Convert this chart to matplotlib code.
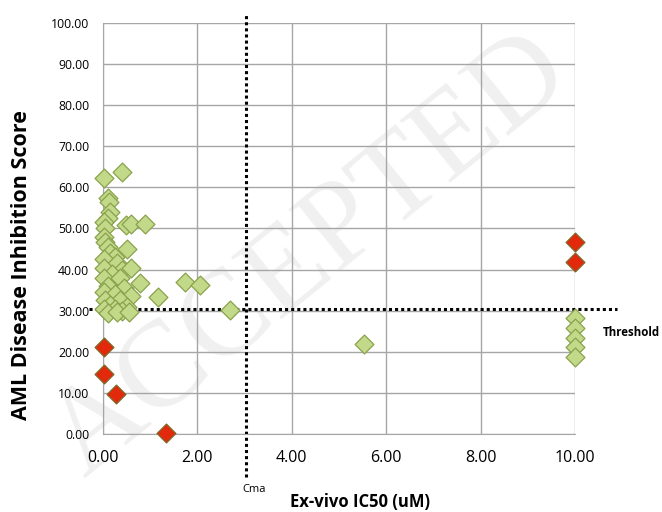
import matplotlib
matplotlib.use("Agg")
import matplotlib.pyplot as plt
from matplotlib.ticker import FormatStrFormatter

plt.rcParams['font.family'] = ['Open Sans', 'DejaVu Sans']

# compounds above / near threshold (green) and below (red)
green_x = [0.02, 0.40, 0.10, 0.13, 0.15, 0.10, 0.02, 0.05, 0.49, 0.60, 0.88,
           0.02, 0.05, 0.10, 0.50, 0.15, 0.25, 0.02, 0.30, 0.02, 0.40, 0.60,
           0.20, 0.02, 0.35, 0.78, 0.10, 0.45, 0.02, 0.25, 0.60, 1.16, 0.05,
           0.35, 0.15, 0.50, 0.02, 0.25, 0.40, 0.10, 0.30, 0.55, 1.73, 2.05,
           2.68, 5.54, 10.0, 10.0, 10.0, 10.0, 10.0]
green_y = [62.2, 63.8, 57.3, 56.5, 54.0, 52.5, 51.6, 50.0, 50.8, 51.0, 51.0,
           48.0, 46.7, 45.5, 45.0, 44.0, 43.0, 42.5, 41.5, 40.3, 40.0, 40.5,
           39.0, 38.0, 38.0, 36.7, 36.0, 35.5, 34.5, 34.0, 33.5, 33.3, 32.5,
           32.5, 31.5, 31.0, 30.5, 30.5, 30.0, 29.5, 29.8, 29.8, 37.0, 36.2,
           30.2, 21.9, 28.2, 25.8, 23.5, 21.3, 18.8]
red_x = [0.03, 0.03, 0.27, 1.34, 10.0, 10.0]
red_y = [21.1, 14.6, 9.8, 0.2, 46.7, 41.9]

threshold = 30.5
cmax = 3.03

x_ticks = [0, 2, 4, 6, 8, 10]
y_ticks = [0, 10, 20, 30, 40, 50, 60, 70, 80, 90, 100]

fig = plt.figure(figsize=(6.62, 5.12), dpi=100)

# faint watermark behind the chart
fig.text(0.47, 0.5, 'ACCEPTED', family='Liberation Serif', fontsize=88,
         color='#f0f0f0', rotation=39, ha='center', va='center', zorder=-1)

ax = fig.add_axes([0.1556, 0.1518, 0.713, 0.8042])
ax.patch.set_alpha(0)

ax.set_xlim(0, 10)
ax.set_ylim(0, 100)
ax.set_xticks(x_ticks)
ax.set_yticks(y_ticks)
ax.xaxis.set_major_formatter(FormatStrFormatter('%.2f'))
ax.yaxis.set_major_formatter(FormatStrFormatter('%.2f'))
ax.grid(True, color='#a6a6a6', linewidth=1.0)
ax.set_axisbelow(True)
for side in ['top', 'right']:
    ax.spines[side].set_visible(False)
for side in ['left', 'bottom']:
    ax.spines[side].set_color('#a6a6a6')
ax.tick_params(axis='both', length=0)
ax.tick_params(axis='y', labelsize=8.8, pad=10)
ax.tick_params(axis='x', labelsize=11.5, pad=11)

# threshold and Cmax lines go past the plot area
ax.plot([-0.3, 10.9], [threshold, threshold], color='black', linestyle=(0, (1, 1)),
        linewidth=2.2, clip_on=False, zorder=2)
ax.plot([cmax, cmax], [-10.4, 102.3], color='black', linestyle=(0, (1, 1)),
        linewidth=2.2, clip_on=False, zorder=2)

ax.scatter(green_x, green_y, marker='D', s=92, facecolor='#c2d98a',
           edgecolor='#8aa24c', linewidth=0.9, clip_on=False, zorder=3)
ax.scatter(red_x, red_y, marker='D', s=92, facecolor='#e3290c',
           edgecolor='#7d6a2a', linewidth=0.9, clip_on=False, zorder=4)

fig.text(22 / 662, 1 - 265 / 512, 'AML Disease Inhibition Score', fontsize=15.5,
         fontweight='bold', rotation=90, ha='center', va='center')
fig.text(360 / 662, 1 - 502 / 512, 'Ex-vivo IC50 (uM)', fontsize=12, fontweight='bold',
         ha='center', va='center')
fig.text(254 / 662, 1 - 490 / 512, 'Cma', fontsize=8, ha='center', va='center')
fig.text(603 / 662, 1 - 333 / 512, 'Threshold', fontsize=8.3, fontweight='bold',
         ha='left', va='center')

fig.savefig('out.png', dpi=100)
